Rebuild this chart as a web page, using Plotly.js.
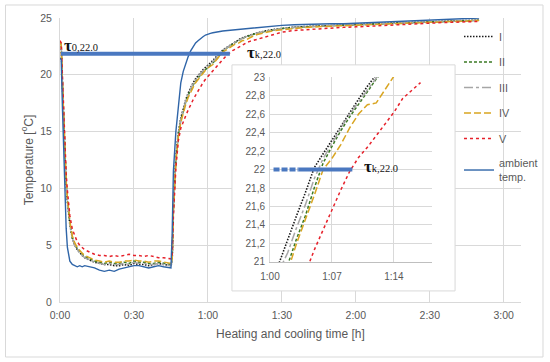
<!DOCTYPE html>
<html><head><meta charset="utf-8">
<script src="https://cdn.plot.ly/plotly-3.0.1.min.js"></script>
<style>html,body{margin:0;padding:0;background:#fff}#chart{width:550px;height:362px}</style>
</head><body><div id="chart"></div>
<script>
// time in minutes
const timeMin = [0,0.5,1,1.5,2,2.5,3,
  4,5,6,7,8,9,10,
  12,14,16,18,20,22,24,26,28,30,32,34,36,38,40,42,44,
  45,45.5,
  46,47,48,49,50,51,52,53,54,55,56,57,58,59,60,61,62,63,64,65,66,67,68,69,70,71,72,73,74,75,76,77,78,
  80,83,86,90,95,100,105,110,115,120,125,130,135,140,145,150,155,160,165,170];

const ambientTemp = [21.5,21.3,17.0,13.0,9.5,6.5,4.8,
  3.6,3.3,3.2,3.1,3.2,3.1,3.2,
  3.1,3.0,2.8,2.7,2.8,2.7,2.9,3.0,3.1,3.2,3.2,3.1,3.0,3.1,3.2,3.1,3.0,
  3.0,6.0,
  11.5,15.0,17.5,19.3,20.3,21.0,21.6,22.1,22.5,22.8,23.0,23.2,23.35,23.5,23.6,23.65,23.7,23.75,23.78,23.8,23.85,23.88,23.9,23.92,23.95,23.97,24.0,24.02,24.03,24.05,24.07,24.08,24.1,
  24.15,24.25,24.3,24.35,24.4,24.45,24.45,24.5,24.5,24.55,24.6,24.65,24.65,24.7,24.75,24.8,24.85,24.9,24.95,25.0];

const seriesI = [22.8,22.5,19.0,15.5,12.5,10.3,8.8,
  6.8,5.6,5.0,4.6,4.3,4.1,3.9,
  3.7,3.5,3.4,3.3,3.3,3.2,3.2,3.3,3.2,3.4,3.3,3.3,3.2,3.3,3.4,3.3,3.2,
  3.2,3.6,
  8.5,12.8,14.9,16.2,17.1,17.8,18.4,18.9,19.3,19.65,19.95,20.2,20.45,20.65,20.85,20.98,21.25,21.5,21.75,22.02,22.17,22.32,22.47,22.62,22.76,22.9,23.03,23.15,23.25,23.35,23.43,23.5,23.57,
  23.7,23.85,23.97,24.1,24.2,24.25,24.3,24.35,24.4,24.42,24.47,24.5,24.55,24.6,24.62,24.68,24.7,24.75,24.78,24.82];

const seriesII = [22.9,22.6,19.2,15.7,12.7,10.5,9.0,
  7.0,5.7,5.1,4.7,4.4,4.2,4.0,
  3.8,3.6,3.5,3.4,3.5,3.4,3.4,3.5,3.4,3.6,3.5,3.5,3.4,3.4,3.5,3.4,3.3,
  3.3,3.7,
  8.2,12.5,14.7,16.0,16.9,17.6,18.2,18.7,19.1,19.45,19.75,20.0,20.25,20.45,20.65,20.8,20.97,21.25,21.5,21.8,22.07,22.25,22.42,22.57,22.7,22.84,22.98,23.1,23.2,23.3,23.38,23.46,23.53,
  23.67,23.82,23.95,24.07,24.17,24.23,24.28,24.33,24.38,24.4,24.45,24.48,24.52,24.57,24.6,24.65,24.68,24.72,24.76,24.8];

const seriesIII = [22.9,22.6,19.1,15.6,12.6,10.4,8.9,
  6.9,5.6,5.0,4.6,4.3,4.1,3.9,
  3.7,3.5,3.4,3.3,3.4,3.3,3.3,3.4,3.3,3.5,3.4,3.4,3.3,3.3,3.4,3.3,3.2,
  3.2,3.6,
  8.3,12.6,14.8,16.1,17.0,17.7,18.3,18.8,19.2,19.55,19.85,20.1,20.35,20.55,20.75,20.9,21.1,21.37,21.62,21.9,22.12,22.28,22.45,22.6,22.73,22.87,23.0,23.12,23.22,23.32,23.4,23.48,23.55,
  23.68,23.83,23.96,24.08,24.18,24.24,24.29,24.34,24.39,24.41,24.46,24.49,24.53,24.58,24.61,24.66,24.69,24.73,24.77,24.81];

const seriesIV = [22.9,22.6,19.3,15.9,12.9,10.7,9.2,
  7.1,5.8,5.2,4.8,4.5,4.3,4.1,
  3.9,3.7,3.6,3.5,3.6,3.5,3.5,3.6,3.6,3.7,3.6,3.6,3.5,3.6,3.6,3.5,3.4,
  3.4,3.8,
  8.0,12.3,14.5,15.8,16.7,17.4,18.0,18.5,18.9,19.3,19.6,19.9,20.15,20.4,20.6,20.75,20.9,21.2,21.45,21.72,22.0,22.12,22.27,22.45,22.6,22.7,22.72,22.87,23.01,23.02,23.15,23.27,23.37,
  23.55,23.72,23.85,23.97,24.1,24.17,24.23,24.28,24.33,24.36,24.42,24.45,24.5,24.54,24.57,24.62,24.65,24.7,24.73,24.77];

const seriesV = [23.0,22.8,19.8,16.5,13.5,11.3,9.8,
  7.6,6.4,5.8,5.3,5.0,4.8,4.6,
  4.4,4.2,4.1,4.1,4.0,4.1,4.0,4.1,4.2,4.1,4.1,4.0,4.1,4.0,3.9,3.9,3.8,
  3.8,4.1,
  7.5,11.8,14.2,15.3,15.9,16.4,16.9,17.4,17.8,18.2,18.6,18.95,19.3,19.6,19.85,20.1,20.35,20.6,20.88,21.13,21.35,21.57,21.78,21.98,22.13,22.24,22.37,22.5,22.62,22.77,22.86,22.94,23.0,
  23.15,23.35,23.52,23.75,23.9,23.98,24.05,24.12,24.18,24.22,24.28,24.33,24.38,24.43,24.48,24.55,24.6,24.63,24.67,24.7];

const seriesNames = ['I','II','III','IV','V','ambient<br>temp.'];

const xTickVals = [0,30,60,90,120,150,180];
const xTickText = ['0:00','0:30','1:00','1:30','2:00','2:30','3:00'];
const yTickVals = [0,5,10,15,20,25];

const insetXTickVals = [60,67,74];
const insetXTickText = ['1:00','1:07','1:14'];
const insetYTickVals = [21,21.2,21.4,21.6,21.8,22,22.2,22.4,22.6,22.8,23];
const insetYTickText = ['21','21,2','21,4','21,6','21,8','22','22,2','22,4','22,6','22,8','23'];
const insetEnd = 77;

const tauMainX = [0.4, 68.9];
const tauMainY = [21.85, 21.85];
const tauInsetDashX = [60.4, 63.2];
const tauInsetSolidX = [63.2, 69.3];
const tauInsetY = [22, 22];

const styles = [
  {color:'#1a1a1a', dash:'1.5px,1.5px', width:1.6},
  {color:'#3b7a25', dash:'3px,2px', width:1.5},
  {color:'#a6a6a6', dash:'dashdot', width:1.5},
  {color:'#d9a521', dash:'7px,3px', width:1.5},
  {color:'#e6202a', dash:'3px,3px', width:1.5},
  {color:'#2f65a8', dash:'solid', width:1.4}
];
const allSeries = [seriesI, seriesII, seriesIII, seriesIV, seriesV, ambientTemp];

const traces = [];
allSeries.forEach((s,i)=>{
  traces.push({x:timeMin, y:s, type:'scatter', mode:'lines', name:seriesNames[i],
    legendgroup:'g'+i, line:styles[i], xaxis:'x', yaxis:'y', hoverinfo:'skip'});
});
traces.push({x:tauMainX, y:tauMainY, type:'scatter', mode:'lines', showlegend:false,
  line:{color:'#4a78c0', width:4}, xaxis:'x', yaxis:'y', hoverinfo:'skip'});
// dummy subplot for inset white box
traces.push({x:[], y:[], type:'scatter', mode:'lines', showlegend:false, xaxis:'x2', yaxis:'y2'});
// inset traces
const insetIdx = timeMin.map((t,i)=> (t>=58 && t<=insetEnd) ? i : -1).filter(i=>i>=0);
allSeries.slice(0,5).forEach((s,i)=>{
  traces.push({x:insetIdx.map(k=>timeMin[k]), y:insetIdx.map(k=>s[k]), type:'scatter', mode:'lines',
    showlegend:false, line:styles[i], xaxis:'x3', yaxis:'y3', hoverinfo:'skip'});
});
traces.push({x:tauInsetDashX, y:tauInsetY, type:'scatter', mode:'lines', showlegend:false,
  line:{color:'#4a78c0', width:4, dash:'6px,2px'}, xaxis:'x3', yaxis:'y3', hoverinfo:'skip'});
traces.push({x:tauInsetSolidX, y:tauInsetY, type:'scatter', mode:'lines', showlegend:false,
  line:{color:'#4a78c0', width:4}, xaxis:'x3', yaxis:'y3', hoverinfo:'skip'});

const fontFam = 'Liberation Sans, Arial, sans-serif';
const tickCol = '#595959';
const grid = '#d9d9d9';

function tauText(sub){
  return '<span style="font-size:17px"><b>τ</b></span><span style="font-size:10.5px">'+sub+'</span>';
}

const layout = {
  width:550, height:362,
  margin:{l:60, r:29, t:18, b:60, autoexpand:false},
  paper_bgcolor:'#ffffff', plot_bgcolor:'#ffffff',
  font:{family:fontFam, color:tickCol, size:10.5},
  showlegend:true,
  xaxis:{domain:[0,1], range:[0,187], tickvals:xTickVals, ticktext:xTickText, showgrid:true,
    gridcolor:grid, gridwidth:1, zeroline:false, showline:true, linecolor:grid, ticks:'',
    ticklabelstandoff:3, tickfont:{size:10.5, color:tickCol}, automargin:false,
    title:{text:'Heating and cooling time [h]', font:{size:12, color:tickCol}, standoff:10}},
  yaxis:{domain:[0,1], range:[0,25], tickvals:yTickVals, showgrid:true, gridcolor:grid,
    zeroline:false, showline:true, linecolor:grid, ticks:'', ticklabelstandoff:5, automargin:false,
    tickfont:{size:10.5, color:tickCol},
    title:{text:'Temperature [<sup>o</sup>C]', font:{size:12, color:tickCol}, standoff:4}},
  xaxis2:{domain:[0.373,0.857], anchor:'y2', range:[0,1], showgrid:false, zeroline:false,
    showticklabels:false, showline:false, ticks:'', fixedrange:true},
  yaxis2:{domain:[0.039,0.835], anchor:'x2', range:[0,1], showgrid:false, zeroline:false,
    showticklabels:false, showline:false, ticks:'', fixedrange:true},
  xaxis3:{domain:[0.4555,0.807], anchor:'y3', range:[60,78.3], tickvals:insetXTickVals,
    ticktext:insetXTickText, showgrid:true, gridcolor:grid, zeroline:false, showline:true,
    linecolor:'#bfbfbf', ticks:'', ticklabelstandoff:5, tickfont:{size:10, color:tickCol}},
  yaxis3:{domain:[0.141,0.792], anchor:'x3', range:[21,23], tickvals:insetYTickVals,
    ticktext:insetYTickText, showgrid:true, gridcolor:grid, zeroline:false, showline:true,
    linecolor:grid, ticks:'', ticklabelstandoff:2, tickfont:{size:10, color:tickCol}},
  legend:{x:0.8655, y:0.986, xanchor:'left', yanchor:'top', bgcolor:'rgba(0,0,0,0)',
    font:{size:10.8, color:tickCol, family:fontFam}, tracegroupgap:6.5, itemwidth:30},
  shapes:[
    {type:'rect', xref:'paper', yref:'paper', x0:0.373, x1:0.857, y0:0.039, y1:0.835,
      line:{color:grid, width:1}, fillcolor:'rgba(0,0,0,0)', layer:'above'},
    {type:'rect', xref:'paper', yref:'paper', x0:-0.1182, x1:1.0477, y0:-0.1937, y1:1.0458,
      line:{color:grid, width:1}, fillcolor:'rgba(0,0,0,0)', layer:'below'}
  ],
  annotations:[
    {x:0.8, y:22.6, xref:'x', yref:'y', xanchor:'left', yanchor:'middle', showarrow:false,
      text:tauText('0,22.0'), font:{family:'Liberation Serif, Times New Roman, serif', color:'#111', size:11}},
    {x:75, y:21.95, xref:'x', yref:'y', xanchor:'left', yanchor:'middle', showarrow:false,
      text:tauText('k,22.0'), font:{family:'Liberation Serif, Times New Roman, serif', color:'#111', size:11}},
    {x:70.35, y:22.03, xref:'x3', yref:'y3', xanchor:'left', yanchor:'middle', showarrow:false,
      text:tauText('k,22.0'), font:{family:'Liberation Serif, Times New Roman, serif', color:'#111', size:11}}
  ]
};

Plotly.newPlot('chart', traces, layout, {staticPlot:true, displayModeBar:false});
</script>
</body></html>
